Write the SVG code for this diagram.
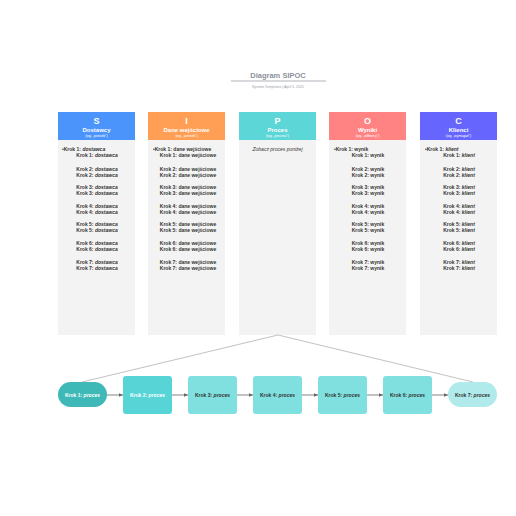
<svg xmlns="http://www.w3.org/2000/svg" width="516" height="516" viewBox="0 0 516 516">
<style>
text{font-family:"Liberation Sans",Arial,sans-serif}
.t{font-size:7.5px;font-weight:bold;fill:#8d929c}
.st{font-size:3.6px;fill:#9a9ea6}
.hl{font-size:9px;font-weight:bold;fill:#fff}
.hn{font-size:6px;font-weight:bold;fill:#fff}
.hs{font-size:3.4px;fill:#fff}
.b{font-size:5px;font-weight:bold;fill:#333}
.b tspan.i{font-style:italic}
.n{font-size:5px;font-style:italic;fill:#333}
.body{fill:#f3f3f3}
.pl{font-size:5px;font-weight:bold}
.con{stroke:#666;stroke-width:0.8;fill:none}
.fan{stroke:#999;stroke-width:0.6;fill:none}
</style>
<defs>
<marker id="ah" viewBox="0 0 6 6" refX="6" refY="3" markerWidth="5" markerHeight="5" orient="auto"><path d="M0,0.5 L6,3 L0,5.5z" fill="#666"/></marker>
</defs>
<g id="title">
<text class="t" x="278" y="78" text-anchor="middle">Diagram SIPOC</text>
<line x1="231" y1="81" x2="326" y2="81" stroke="#8d929c" stroke-width="0.7"/>
<text class="st" x="278" y="88" text-anchor="middle">System Templates  |  April 5, 2025</text>
</g>
<g id="col-S">
<rect x="58" y="112" width="77" height="28" fill="#4a94fb"/>
<rect class="body" x="58" y="140" width="77" height="195"/>
<text class="hl" x="96.5" y="124" text-anchor="middle">S</text>
<text class="hn" x="96.5" y="132" text-anchor="middle">Dostawcy</text>
<text class="hs" x="96.5" y="137" text-anchor="middle">(wg. „potrzeb")</text>
<text class="b" x="62" y="151">•Krok 1: <tspan class="i">dostawca</tspan></text>
<g text-anchor="middle">
<text class="b" x="97" y="157">Krok 1: <tspan class="i">dostawca</tspan></text>
<text class="b" x="97" y="171">Krok 2: <tspan class="i">dostawca</tspan></text><text class="b" x="97" y="177">Krok 2: <tspan class="i">dostawca</tspan></text>
<text class="b" x="97" y="189">Krok 3: <tspan class="i">dostawca</tspan></text><text class="b" x="97" y="195">Krok 3: <tspan class="i">dostawca</tspan></text>
<text class="b" x="97" y="208">Krok 4: <tspan class="i">dostawca</tspan></text><text class="b" x="97" y="214">Krok 4: <tspan class="i">dostawca</tspan></text>
<text class="b" x="97" y="226">Krok 5: <tspan class="i">dostawca</tspan></text><text class="b" x="97" y="232">Krok 5: <tspan class="i">dostawca</tspan></text>
<text class="b" x="97" y="245">Krok 6: <tspan class="i">dostawca</tspan></text><text class="b" x="97" y="251">Krok 6: <tspan class="i">dostawca</tspan></text>
<text class="b" x="97" y="264">Krok 7: <tspan class="i">dostawca</tspan></text><text class="b" x="97" y="270">Krok 7: <tspan class="i">dostawca</tspan></text>
</g>
</g>
<g id="col-I">
<rect x="148" y="112" width="77" height="28" fill="#ff9e55"/>
<rect class="body" x="148" y="140" width="77" height="195"/>
<text class="hl" x="186.5" y="124" text-anchor="middle">I</text>
<text class="hn" x="186.5" y="132" text-anchor="middle">Dane wejściowe</text>
<text class="hs" x="186.5" y="137" text-anchor="middle">(wg. „potrzeb")</text>
<text class="b" x="153" y="151">•Krok 1: dane wejściowe</text>
<g text-anchor="middle">
<text class="b" x="188" y="157">Krok 1: dane wejściowe</text>
<text class="b" x="188" y="171">Krok 2: dane wejściowe</text><text class="b" x="188" y="177">Krok 2: dane wejściowe</text>
<text class="b" x="188" y="189">Krok 3: dane wejściowe</text><text class="b" x="188" y="195">Krok 3: dane wejściowe</text>
<text class="b" x="188" y="208">Krok 4: dane wejściowe</text><text class="b" x="188" y="214">Krok 4: dane wejściowe</text>
<text class="b" x="188" y="226">Krok 5: dane wejściowe</text><text class="b" x="188" y="232">Krok 5: dane wejściowe</text>
<text class="b" x="188" y="245">Krok 6: dane wejściowe</text><text class="b" x="188" y="251">Krok 6: dane wejściowe</text>
<text class="b" x="188" y="264">Krok 7: dane wejściowe</text><text class="b" x="188" y="270">Krok 7: dane wejściowe</text>
</g>
</g>
<g id="col-P">
<rect x="239" y="112" width="77" height="28" fill="#5dd6d8"/>
<rect class="body" x="239" y="140" width="77" height="195"/>
<text class="hl" x="277.5" y="124" text-anchor="middle">P</text>
<text class="hn" x="277.5" y="132" text-anchor="middle">Proces</text>
<text class="hs" x="277.5" y="137" text-anchor="middle">(wg. „procesu")</text>
<text class="n" x="277.5" y="151" text-anchor="middle">Zobacz proces poniżej</text>
</g>
<g id="col-O">
<rect x="329" y="112" width="77" height="28" fill="#ff8383"/>
<rect class="body" x="329" y="140" width="77" height="195"/>
<text class="hl" x="367.5" y="124" text-anchor="middle">O</text>
<text class="hn" x="367.5" y="132" text-anchor="middle">Wyniki</text>
<text class="hs" x="367.5" y="137" text-anchor="middle">(wg. „odbiorcy")</text>
<text class="b" x="334" y="151">•Krok 1: wynik</text>
<g text-anchor="middle">
<text class="b" x="368" y="157">Krok 1: wynik</text>
<text class="b" x="368" y="171">Krok 2: wynik</text><text class="b" x="368" y="177">Krok 2: wynik</text>
<text class="b" x="368" y="189">Krok 3: wynik</text><text class="b" x="368" y="195">Krok 3: wynik</text>
<text class="b" x="368" y="208">Krok 4: wynik</text><text class="b" x="368" y="214">Krok 4: wynik</text>
<text class="b" x="368" y="226">Krok 5: wynik</text><text class="b" x="368" y="232">Krok 5: wynik</text>
<text class="b" x="368" y="245">Krok 6: wynik</text><text class="b" x="368" y="251">Krok 6: wynik</text>
<text class="b" x="368" y="264">Krok 7: wynik</text><text class="b" x="368" y="270">Krok 7: wynik</text>
</g>
</g>
<g id="col-C">
<rect x="420" y="112" width="77" height="28" fill="#6666ff"/>
<rect class="body" x="420" y="140" width="77" height="195"/>
<text class="hl" x="458.5" y="124" text-anchor="middle">C</text>
<text class="hn" x="458.5" y="132" text-anchor="middle">Klienci</text>
<text class="hs" x="458.5" y="137" text-anchor="middle">(wg. „wymagań")</text>
<text class="b" x="425" y="151">•Krok 1: <tspan class="i">klient</tspan></text>
<g text-anchor="middle">
<text class="b" x="459" y="157">Krok 1: <tspan class="i">klient</tspan></text>
<text class="b" x="459" y="171">Krok 2: <tspan class="i">klient</tspan></text><text class="b" x="459" y="177">Krok 2: <tspan class="i">klient</tspan></text>
<text class="b" x="459" y="189">Krok 3: <tspan class="i">klient</tspan></text><text class="b" x="459" y="195">Krok 3: <tspan class="i">klient</tspan></text>
<text class="b" x="459" y="208">Krok 4: <tspan class="i">klient</tspan></text><text class="b" x="459" y="214">Krok 4: <tspan class="i">klient</tspan></text>
<text class="b" x="459" y="226">Krok 5: <tspan class="i">klient</tspan></text><text class="b" x="459" y="232">Krok 5: <tspan class="i">klient</tspan></text>
<text class="b" x="459" y="245">Krok 6: <tspan class="i">klient</tspan></text><text class="b" x="459" y="251">Krok 6: <tspan class="i">klient</tspan></text>
<text class="b" x="459" y="264">Krok 7: <tspan class="i">klient</tspan></text><text class="b" x="459" y="270">Krok 7: <tspan class="i">klient</tspan></text>
</g>
</g>
<g id="connectors">
<path class="fan" d="M278,335 L82,382"/>
<path class="fan" d="M278,335 L473,382"/>
<path class="con" d="M107,395 L123,395" marker-end="url(#ah)"/>
<path class="con" d="M172,395 L188,395" marker-end="url(#ah)"/>
<path class="con" d="M237,395 L253,395" marker-end="url(#ah)"/>
<path class="con" d="M302,395 L318,395" marker-end="url(#ah)"/>
<path class="con" d="M367,395 L383,395" marker-end="url(#ah)"/>
<path class="con" d="M432,395 L448,395" marker-end="url(#ah)"/>
</g>
<g id="step1"><rect x="58" y="382" width="49" height="25" rx="12.5" fill="#3fb8b8"/><text class="pl" x="82.5" y="397" text-anchor="middle" fill="#fff">Krok 1: <tspan font-style="italic">proces</tspan></text></g>
<g id="step2"><rect x="123" y="376" width="49" height="38" rx="3" fill="#56d4d6"/><text class="pl" x="147.5" y="397" text-anchor="middle" fill="#fff">Krok 2: <tspan font-style="italic">proces</tspan></text></g>
<g id="step3"><rect x="188" y="376" width="49" height="38" rx="3" fill="#80e0e0"/><text class="pl" x="212.5" y="397" text-anchor="middle" fill="#333">Krok 3: <tspan font-style="italic">proces</tspan></text></g>
<g id="step4"><rect x="253" y="376" width="49" height="38" rx="3" fill="#80e0e0"/><text class="pl" x="277.5" y="397" text-anchor="middle" fill="#333">Krok 4: <tspan font-style="italic">proces</tspan></text></g>
<g id="step5"><rect x="318" y="376" width="49" height="38" rx="3" fill="#80e0e0"/><text class="pl" x="342.5" y="397" text-anchor="middle" fill="#333">Krok 5: <tspan font-style="italic">proces</tspan></text></g>
<g id="step6"><rect x="383" y="376" width="49" height="38" rx="3" fill="#80e0e0"/><text class="pl" x="407.5" y="397" text-anchor="middle" fill="#333">Krok 6: <tspan font-style="italic">proces</tspan></text></g>
<g id="step7"><rect x="448" y="382" width="49" height="25" rx="12.5" fill="#b0eaea"/><text class="pl" x="472.5" y="397" text-anchor="middle" fill="#333">Krok 7: <tspan font-style="italic">proces</tspan></text></g>
</svg>
